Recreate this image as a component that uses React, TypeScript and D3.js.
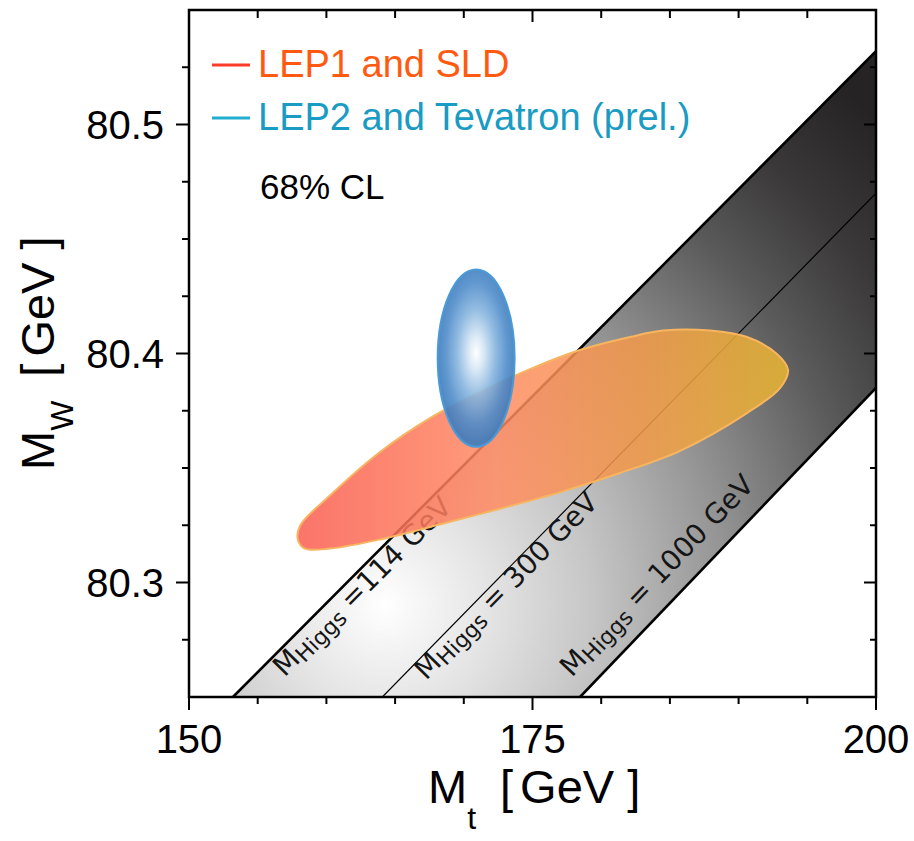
import React from "react";
import * as d3 from "d3";

const width = 914;
const height = 841;
const plotLeft = 189;
const plotRight = 876;
const plotTop = 10;
const plotBottom = 697;

// axes
const mtDomain = [150, 200];
const mwDomain = [80.25, 80.55];
const mtMajorTicks = [150, 175, 200];
const mtMinorTicks = [155, 160, 165, 170, 180, 185, 190, 195];
const mwMajorTicks = [80.3, 80.4, 80.5];
const mwMinorTicks = [80.275, 80.325, 80.35, 80.375, 80.425, 80.45, 80.475, 80.525];

// SM prediction lines, Higgs mass
const higgsMasses = ["114", "300", "1000"];
const higgsLabelText = [" =114  GeV", " = 300 GeV", " = 1000 GeV"];
const higgsLineStart = [[153.2, 80.25], [164.07, 80.25], [178.46, 80.25]];
const higgsLineEnd = [[200, 80.532], [200, 80.47], [200, 80.385]];

// LEP1 and SLD 68% contour (Mt, MW)
const lep1Mt = [157.93, 158.08, 160.26, 163.9, 167.54, 171.18, 174.82, 178.46, 182.1, 184.5, 187.92,
  190.61, 192.79, 193.6, 193.01, 190.61, 185.74, 181.37, 177.22, 172.63, 168.78, 163.9, 160.26, 158.44];
const lep1Mw = [80.3186, 80.3248, 80.338, 80.357, 80.3718, 80.3832, 80.3932, 80.4015, 80.4072, 80.41, 80.41,
  80.4072, 80.3998, 80.3928, 80.3849, 80.374, 80.3575, 80.3478, 80.3398, 80.3322, 80.3262, 80.3188, 80.3148, 80.3148];

// LEP2 and Tevatron direct measurement
const lep2Center = [170.9, 80.398];
const lep2Half = [2.8, 0.0387];

const sans = "Liberation Sans, Arial, sans-serif";

export default function App() {
  const x = d3.scaleLinear().domain(mtDomain).range([plotLeft, plotRight]);
  const y = d3.scaleLinear().domain(mwDomain).range([plotBottom, plotTop]);

  const line = d3.line<number[]>().x(d => x(d[0])).y(d => y(d[1]));
  const contour = d3.line<number[]>()
    .x(d => x(d[0]))
    .y(d => y(d[1]))
    .curve(d3.curveCatmullRomClosed.alpha(0.5));

  const lep1Points = lep1Mt.map((m, i) => [m, lep1Mw[i]]);
  const band = [higgsLineStart[0], higgsLineEnd[0], higgsLineEnd[2], higgsLineStart[2]];

  const labelAlong = [50, 42, 8];
  const labelOffset = [23, 20, -19];
  const lineWidths = [2.6, 1.2, 2.6];

  return (
    <svg width={width} height={height} style={{ position: "absolute", left: 0, top: 0, display: "block" }}>
      <defs>
        <clipPath id="plot">
          <rect x={plotLeft} y={plotTop} width={plotRight - plotLeft} height={plotBottom - plotTop} />
        </clipPath>
        <radialGradient id="bandGrad" gradientUnits="userSpaceOnUse" cx={385} cy={605} r={690}>
          <stop offset="0" stopColor="#ffffff" />
          <stop offset="0.15" stopColor="#e4e4e4" />
          <stop offset="0.3" stopColor="#c6c6c6" />
          <stop offset="0.5" stopColor="#939393" />
          <stop offset="0.7" stopColor="#5a5a5a" />
          <stop offset="0.85" stopColor="#3a3838" />
          <stop offset="1" stopColor="#252323" />
        </radialGradient>
        <linearGradient id="lep1Grad" gradientUnits="userSpaceOnUse" x1={297} x2={790} y1={0} y2={0}>
          <stop offset="0" stopColor="#fa5c50" />
          <stop offset="0.4" stopColor="#ff8a62" />
          <stop offset="0.7" stopColor="#f39a48" />
          <stop offset="1" stopColor="#eab832" />
        </linearGradient>
        <radialGradient id="lep2Grad" cx="0.5" cy="0.47" r="0.5">
          <stop offset="0" stopColor="#ffffff" />
          <stop offset="0.2" stopColor="#d4e6f4" />
          <stop offset="0.5" stopColor="#86b4de" />
          <stop offset="0.8" stopColor="#4f8cca" />
          <stop offset="1" stopColor="#3d7cbe" />
        </radialGradient>
      </defs>

      <g clipPath="url(#plot)">
        <path d={line(band) + "Z"} fill="url(#bandGrad)" />
        {higgsLineStart.map((s, i) => (
          <path key={i} d={line([s, higgsLineEnd[i]])!} stroke="#000" strokeWidth={lineWidths[i]} fill="none" />
        ))}
      </g>

      {higgsMasses.map((m, i) => {
        const x0 = x(higgsLineStart[i][0]), y0 = y(higgsLineStart[i][1]);
        const x1 = x(higgsLineEnd[i][0]), y1 = y(higgsLineEnd[i][1]);
        const len = Math.hypot(x1 - x0, y1 - y0);
        const ux = (x1 - x0) / len, uy = (y1 - y0) / len;
        const nx = -uy, ny = ux;
        const sx = x0 + labelAlong[i] * ux + labelOffset[i] * nx;
        const sy = y0 + labelAlong[i] * uy + labelOffset[i] * ny;
        const ang = (Math.atan2(uy, ux) * 180) / Math.PI;
        return (
          <text key={m} transform={`translate(${sx},${sy}) rotate(${ang})`}
            fontFamily="DejaVu Sans, sans-serif" fontSize={28} fill="#151515">
            M<tspan fontSize={22} dy={4}>Higgs</tspan><tspan dy={-4}>{higgsLabelText[i]}</tspan>
          </text>
        );
      })}

      <path d={contour(lep1Points)!} fill="url(#lep1Grad)" fillOpacity={0.85}
        stroke="#f7b560" strokeWidth={2} />

      <ellipse cx={x(lep2Center[0])} cy={y(lep2Center[1])}
        rx={x(lep2Center[0] + lep2Half[0]) - x(lep2Center[0])}
        ry={y(lep2Center[1] - lep2Half[1]) - y(lep2Center[1])}
        fill="url(#lep2Grad)" fillOpacity={0.9} stroke="#4b9ad8" strokeWidth={2} />

      {/* frame */}
      <rect x={plotLeft} y={plotTop} width={plotRight - plotLeft} height={plotBottom - plotTop}
        fill="none" stroke="#000" strokeWidth={2.5} />

      {/* ticks */}
      <g stroke="#000" strokeWidth={2}>
        {mtMajorTicks.map(t => (
          <g key={"xM" + t}>
            <line x1={x(t)} x2={x(t)} y1={plotBottom} y2={plotBottom + 13} />
            <line x1={x(t)} x2={x(t)} y1={plotTop} y2={plotTop + 12} />
          </g>
        ))}
        {mtMinorTicks.map(t => (
          <g key={"xm" + t}>
            <line x1={x(t)} x2={x(t)} y1={plotBottom} y2={plotBottom + 7} />
            <line x1={x(t)} x2={x(t)} y1={plotTop} y2={plotTop + 8} />
          </g>
        ))}
        {mwMajorTicks.map(t => (
          <g key={"yM" + t}>
            <line x1={plotLeft - 13} x2={plotLeft} y1={y(t)} y2={y(t)} />
            <line x1={plotRight - 12} x2={plotRight} y1={y(t)} y2={y(t)} />
          </g>
        ))}
        {mwMinorTicks.map(t => (
          <g key={"ym" + t}>
            <line x1={plotLeft - 7} x2={plotLeft} y1={y(t)} y2={y(t)} />
            <line x1={plotRight - 6} x2={plotRight} y1={y(t)} y2={y(t)} />
          </g>
        ))}
      </g>

      {/* tick labels */}
      <g fontFamily={sans} fontSize={40} fill="#000">
        {mtMajorTicks.map(t => (
          <text key={t} x={x(t)} y={753} textAnchor="middle">{t}</text>
        ))}
        {mwMajorTicks.map(t => (
          <text key={t} x={164} y={y(t)} dy="0.35em" textAnchor="end">{t.toFixed(1)}</text>
        ))}
      </g>

      {/* axis titles */}
      <text x={428} y={803} fontFamily={sans} fontSize={47}>
        M<tspan fontSize={32} dy={26}>t</tspan>
        <tspan dy={-26} dx={24}>[</tspan><tspan dx={7}>GeV</tspan><tspan dx={13}>]</tspan>
      </text>
      <text transform="translate(54,470) rotate(-90)" fontFamily={sans} fontSize={47}>
        M<tspan fontSize={32} dy={19}>W</tspan>
        <tspan dy={-19} dx={24}>[</tspan><tspan dx={7}>GeV</tspan><tspan dx={13}>]</tspan>
      </text>

      {/* legend */}
      <line x1={212} x2={250} y1={65} y2={65} stroke="#ff3b2a" strokeWidth={3} />
      <text x={258} y={77} fontFamily={sans} fontSize={38} fill="#ff5a10">LEP1 and SLD</text>
      <line x1={212} x2={250} y1={118} y2={118} stroke="#22aed0" strokeWidth={3} />
      <text x={258} y={130} fontFamily={sans} fontSize={38} fill="#1a9bc3">LEP2 and Tevatron (prel.)</text>
      <text x={260} y={199} fontFamily={sans} fontSize={35} fill="#000">68% CL</text>
    </svg>
  );
}
